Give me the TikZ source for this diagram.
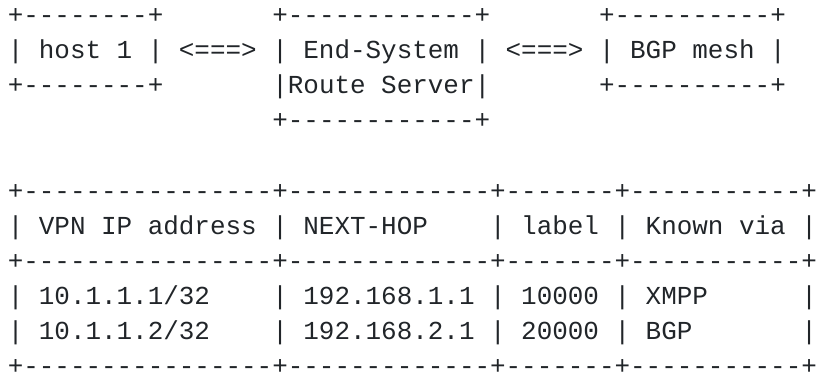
\documentclass[tikz,border=0pt]{standalone}
\usepackage{fontspec}
\setmonofont{Liberation Mono}
\usepackage{xcolor}
\usepackage{tikz}
\usetikzlibrary{positioning}
\definecolor{asciiink}{HTML}{212529}
\frenchspacing

\begin{document}
\begin{tikzpicture}[
    x=11.67pt, y=-26.36pt,
    asciiline/.style={anchor=base west, inner sep=0pt, text=asciiink, text depth=0pt,
        font=\ttfamily\fontsize{19.45}{23}\selectfont}
]
\useasboundingbox (-0.482,-0.6686) rectangle ++(52.635,10.697);
% boxes
\node[asciiline] (boxtop)  at (0,0) {+--------+~~~~~~~+------------+~~~~~~~+----------+};
\node[asciiline] (boxmid)  at (0,1) {|~host~1~|~<===>~|~End-System~|~<===>~|~BGP~mesh~|};
\node[asciiline] (boxlow)  at (0,2) {+--------+~~~~~~~|Route~Server|~~~~~~~+----------+};
\node[asciiline] (boxbot)  at (0,3) {~~~~~~~~~~~~~~~~~+------------+};
% table
\node[asciiline] (tabtop)  at (0,5) {+----------------+-------------+-------+-----------+};
\node[asciiline] (tabhead) at (0,6) {|~VPN~IP~address~|~NEXT-HOP~~~~|~label~|~Known~via~|};
\node[asciiline] (tabsep)  at (0,7) {+----------------+-------------+-------+-----------+};
\node[asciiline] (rowone)  at (0,8) {|~10.1.1.1/32~~~~|~192.168.1.1~|~10000~|~XMPP~~~~~~|};
\node[asciiline] (rowtwo)  at (0,9) {|~10.1.1.2/32~~~~|~192.168.2.1~|~20000~|~BGP~~~~~~~|};
\node[asciiline] (tabbot)  at (0,10) {+----------------+-------------+-------+-----------+};
\end{tikzpicture}
\end{document}
